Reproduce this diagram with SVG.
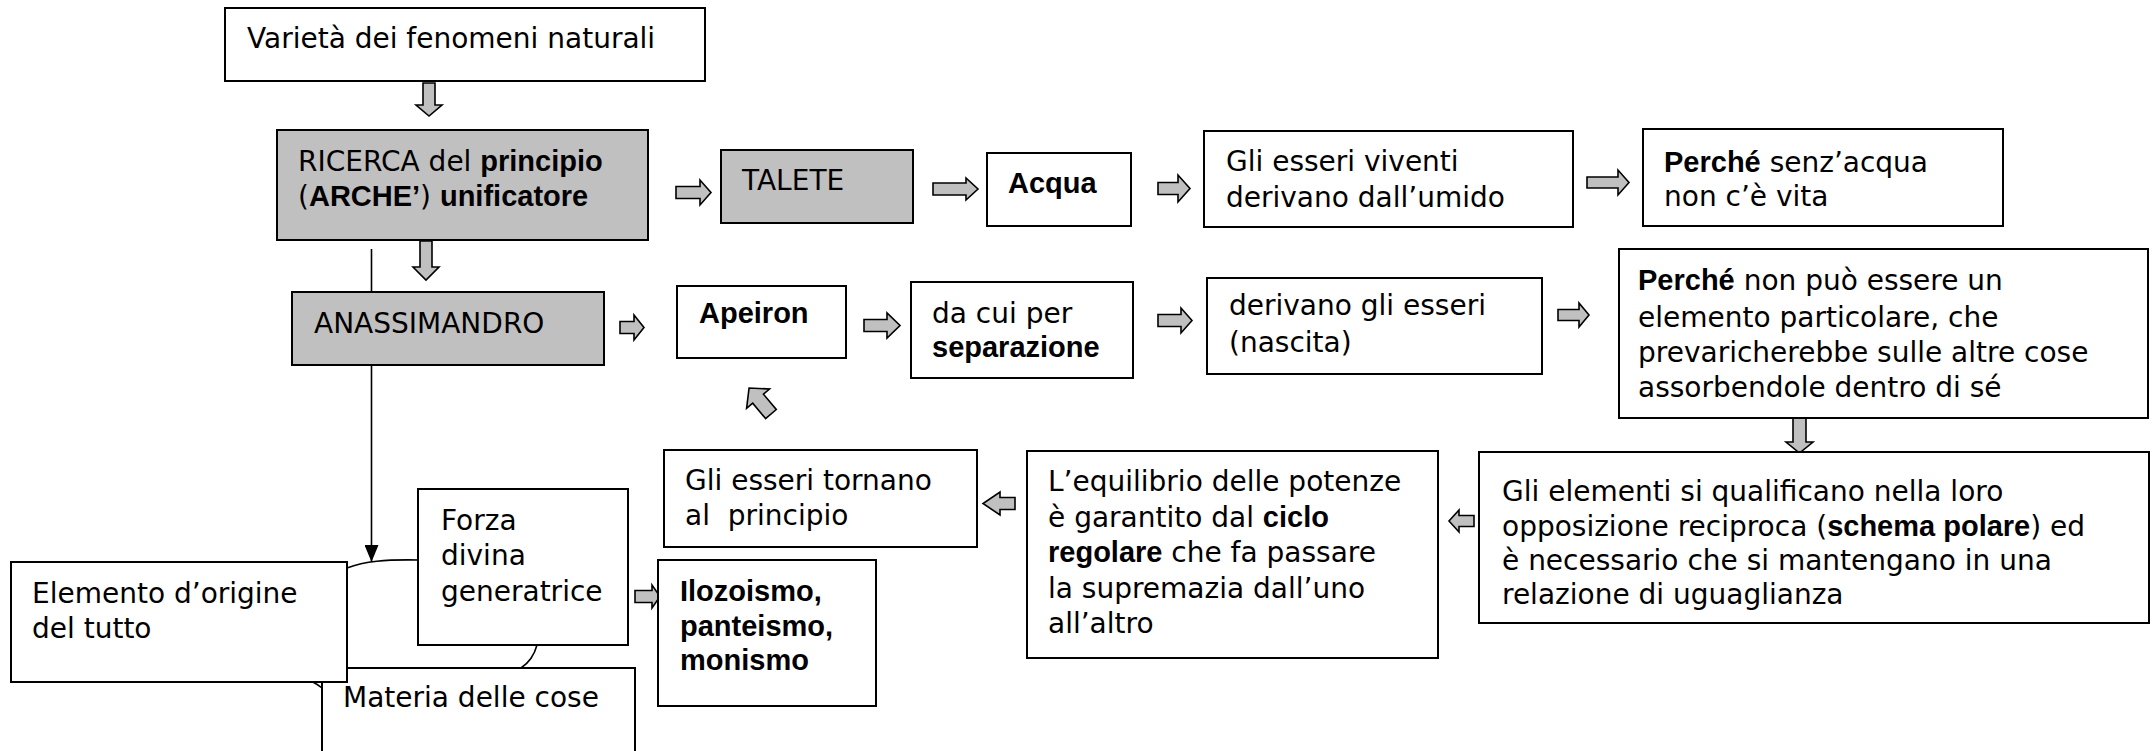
<svg xmlns="http://www.w3.org/2000/svg" width="2152" height="751" viewBox="0 0 2152 751">
<style>
  .box{fill:#ffffff;stroke:#000;stroke-width:2}
  .gray{fill:#c0c0c0;stroke:#000;stroke-width:2}
  .blk{fill:#c0c0c0;stroke:#000;stroke-width:1.6;stroke-linejoin:miter}
  .ln{fill:none;stroke:#000;stroke-width:1.6}
  text{font-family:"DejaVu Sans","Liberation Sans",sans-serif;font-size:28px;fill:#000}
  .b{font-family:"Liberation Sans","DejaVu Sans",sans-serif;font-weight:bold;font-size:29px}
</style>
<defs>
  <marker id="tri" viewBox="0 0 17 14" refX="17" refY="7" markerWidth="17" markerHeight="14" markerUnits="userSpaceOnUse" orient="auto">
    <path d="M0,0 L17,7 L0,14 Z" fill="#000"/>
  </marker>
</defs>
<rect width="2152" height="751" fill="#fff"/>
<g id="connectors">
  <line class="ln" x1="371.5" y1="249" x2="371.5" y2="562" marker-end="url(#tri)"/>
  <path class="ln" d="M347,568 C365,561 385,559.5 418,560"/>
  <path class="ln" d="M537,645 Q533,660 521,668"/>
  <path class="ln" d="M311,681 Q317,684 322,688"/>
  <polygon class="blk" points="423,83 435,83 435,105 442,105 429,116 416,105 423,105"/>
  <polygon class="blk" points="420,241 432,241 432,267 439,267 426,280 413,267 420,267"/>
  <polygon class="blk" points="1793,418 1806,418 1806,442 1813,442 1799.5,453 1786,442 1793,442"/>
  <polygon class="blk" points="676,186.5 700,186.5 700,180 711,192.5 700,205 700,198.5 676,198.5"/>
  <polygon class="blk" points="933,183 966,183 966,178 978,189 966,200 966,195 933,195"/>
  <polygon class="blk" points="1158,182.5 1178,182.5 1178,175 1190,188.5 1178,202 1178,194.5 1158,194.5"/>
  <polygon class="blk" points="1587,177 1618,177 1618,170 1629,182.5 1618,195 1618,188 1587,188"/>
  <polygon class="blk" points="620,321.5 634,321.5 634,315 644,327.5 634,340 634,333.5 620,333.5"/>
  <polygon class="blk" points="864,319.5 887,319.5 887,313 900,325.5 887,338 887,331.5 864,331.5"/>
  <polygon class="blk" points="1158,314.5 1181,314.5 1181,308 1192,320.5 1181,333 1181,326.5 1158,326.5"/>
  <polygon class="blk" points="1558,309.5 1579,309.5 1579,303 1589,315 1579,327 1579,320.5 1558,320.5"/>
  <polygon class="blk" points="635,590.5 652,590.5 652,585 660,596.5 652,608 652,602.5 635,602.5"/>
  <polygon class="blk" points="1474,515.5 1459,515.5 1459,510 1449,521 1459,532 1459,526.5 1474,526.5"/>
  <polygon class="blk" points="1015,497.5 1000,497.5 1000,492 983,503.5 1000,515 1000,509.5 1015,509.5"/>
  <polygon class="blk" transform="translate(760,401) rotate(-130)" points="-17,-7 3,-7 3,-15 17,0 3,15 3,7 -17,7"/>
</g>
<g id="n-varieta">
  <rect class="box" x="225" y="8" width="480" height="73"/>
  <text x="247" y="48">Varietà dei fenomeni naturali</text>
</g>
<g id="n-ricerca">
  <rect class="gray" x="277" y="130" width="371" height="110"/>
  <text x="298" y="171">RICERCA del <tspan class="b">principio</tspan></text>
  <text x="298" y="206">(<tspan class="b">ARCHE’</tspan>) <tspan class="b">unificatore</tspan></text>
</g>
<g id="n-talete">
  <rect class="gray" x="721" y="150" width="192" height="73"/>
  <text x="742" y="190">TALETE</text>
</g>
<g id="n-acqua">
  <rect class="box" x="987" y="153" width="144" height="73"/>
  <text x="1008" y="193" class="b">Acqua</text>
</g>
<g id="n-viventi">
  <rect class="box" x="1204" y="131" width="369" height="96"/>
  <text x="1226" y="171">Gli esseri viventi</text>
  <text x="1226" y="207">derivano dall’umido</text>
</g>
<g id="n-perche1">
  <rect class="box" x="1643" y="129" width="360" height="97"/>
  <text x="1664" y="172"><tspan class="b">Perché</tspan> senz’acqua</text>
  <text x="1664" y="206">non c’è vita</text>
</g>
<g id="n-anassimandro">
  <rect class="gray" x="292" y="292" width="312" height="73"/>
  <text x="314" y="333">ANASSIMANDRO</text>
</g>
<g id="n-apeiron">
  <rect class="box" x="677" y="286" width="169" height="72"/>
  <text x="699" y="323" class="b">Apeiron</text>
</g>
<g id="n-separazione">
  <rect class="box" x="911" y="282" width="222" height="96"/>
  <text x="932" y="323">da cui per</text>
  <text x="932" y="357" class="b">separazione</text>
</g>
<g id="n-derivano">
  <rect class="box" x="1207" y="278" width="335" height="96"/>
  <text x="1229" y="315">derivano gli esseri</text>
  <text x="1229" y="352">(nascita)</text>
</g>
<g id="n-perche2">
  <rect class="box" x="1619" y="249" width="529" height="169"/>
  <text x="1638" y="290"><tspan class="b">Perché</tspan> non può essere un</text>
  <text x="1638" y="327">elemento particolare, che</text>
  <text x="1638" y="362">prevaricherebbe sulle altre cose</text>
  <text x="1638" y="397">assorbendole dentro di sé</text>
</g>
<g id="n-elementi">
  <rect class="box" x="1479" y="452" width="670" height="171"/>
  <text x="1502" y="501">Gli elementi si qualificano nella loro</text>
  <text x="1502" y="536">opposizione reciproca (<tspan class="b">schema polare</tspan>) ed</text>
  <text x="1502" y="570">è necessario che si mantengano in una</text>
  <text x="1502" y="604">relazione di uguaglianza</text>
</g>
<g id="n-equilibrio">
  <rect class="box" x="1027" y="451" width="411" height="207"/>
  <text x="1048" y="491">L’equilibrio delle potenze</text>
  <text x="1048" y="527">è garantito dal <tspan class="b">ciclo</tspan></text>
  <text x="1048" y="562"><tspan class="b">regolare</tspan> che fa passare</text>
  <text x="1048" y="598">la supremazia dall’uno</text>
  <text x="1048" y="633">all’altro</text>
</g>
<g id="n-tornano">
  <rect class="box" x="664" y="450" width="313" height="97"/>
  <text x="685" y="490">Gli esseri tornano</text>
  <text x="685" y="525">al&#160; principio</text>
</g>
<g id="n-ilozoismo">
  <rect class="box" x="658" y="560" width="218" height="146"/>
  <text x="680" y="601" class="b">Ilozoismo,</text>
  <text x="680" y="636" class="b">panteismo,</text>
  <text x="680" y="670" class="b">monismo</text>
</g>
<g id="n-forza">
  <rect class="box" x="418" y="489" width="210" height="156"/>
  <text x="441" y="530">Forza</text>
  <text x="441" y="565">divina</text>
  <text x="441" y="601">generatrice</text>
</g>
<g id="n-materia">
  <rect class="box" x="322" y="668" width="313" height="100"/>
  <text x="343" y="707">Materia delle cose</text>
</g>
<g id="n-elemento">
  <rect class="box" x="11" y="562" width="336" height="120"/>
  <text x="32" y="603">Elemento d’origine</text>
  <text x="32" y="638">del tutto</text>
</g>
</svg>
